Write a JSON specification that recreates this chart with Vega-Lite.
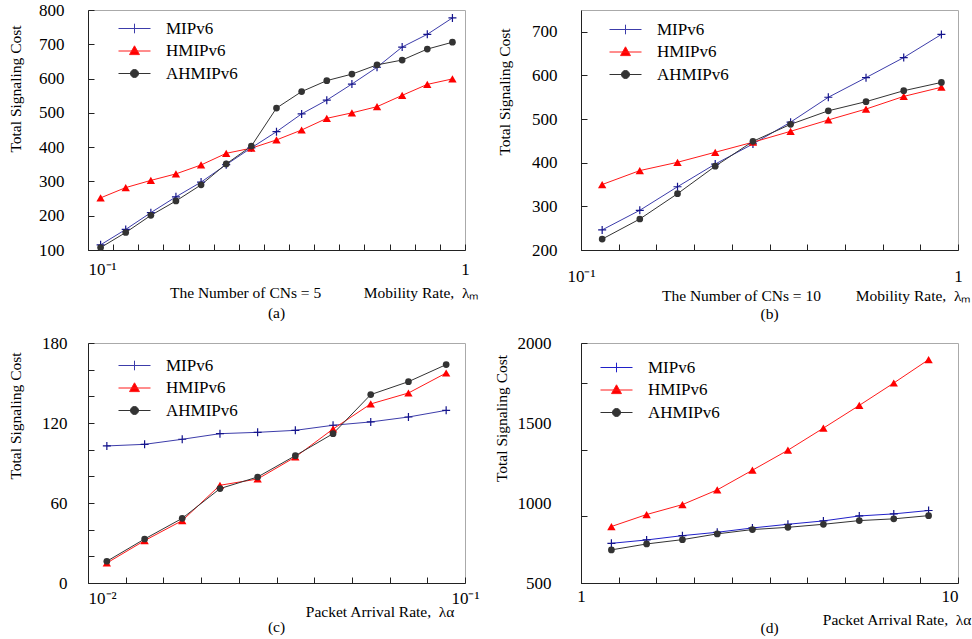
{
  "$schema": "https://vega.github.io/schema/vega-lite/v6.json",
  "padding": {"left": 7, "top": 0, "right": 0, "bottom": 0},
  "background": "white",
  "columns": 2,
  "bounds": "flush",
  "spacing": {"row": 93, "column": 116},
  "resolve": {"scale": {"color": "independent", "x": "independent", "y": "independent"}, "legend": {"color": "independent"}},
  "datasets": {
    "a": [
      {"x": 0.1080, "y": 115, "s": "MIPv6"}, {"x": 0.1259, "y": 160, "s": "MIPv6"}, {"x": 0.1468, "y": 209, "s": "MIPv6"}, {"x": 0.1711, "y": 255, "s": "MIPv6"}, {"x": 0.1995, "y": 298, "s": "MIPv6"}, {"x": 0.2326, "y": 349, "s": "MIPv6"}, {"x": 0.2712, "y": 398, "s": "MIPv6"}, {"x": 0.3162, "y": 445, "s": "MIPv6"}, {"x": 0.3687, "y": 497, "s": "MIPv6"}, {"x": 0.4299, "y": 537, "s": "MIPv6"}, {"x": 0.5012, "y": 584, "s": "MIPv6"}, {"x": 0.5843, "y": 633, "s": "MIPv6"}, {"x": 0.6813, "y": 692, "s": "MIPv6"}, {"x": 0.7943, "y": 729, "s": "MIPv6"}, {"x": 0.9261, "y": 777, "s": "MIPv6"},
      {"x": 0.1080, "y": 252, "s": "HMIPv6"}, {"x": 0.1259, "y": 282, "s": "HMIPv6"}, {"x": 0.1468, "y": 303, "s": "HMIPv6"}, {"x": 0.1711, "y": 322, "s": "HMIPv6"}, {"x": 0.1995, "y": 348, "s": "HMIPv6"}, {"x": 0.2326, "y": 382, "s": "HMIPv6"}, {"x": 0.2712, "y": 397, "s": "HMIPv6"}, {"x": 0.3162, "y": 421, "s": "HMIPv6"}, {"x": 0.3687, "y": 450, "s": "HMIPv6"}, {"x": 0.4299, "y": 484, "s": "HMIPv6"}, {"x": 0.5012, "y": 500, "s": "HMIPv6"}, {"x": 0.5843, "y": 518, "s": "HMIPv6"}, {"x": 0.6813, "y": 551, "s": "HMIPv6"}, {"x": 0.7943, "y": 583, "s": "HMIPv6"}, {"x": 0.9261, "y": 599, "s": "HMIPv6"},
      {"x": 0.1080, "y": 107, "s": "AHMIPv6"}, {"x": 0.1259, "y": 151, "s": "AHMIPv6"}, {"x": 0.1468, "y": 201, "s": "AHMIPv6"}, {"x": 0.1711, "y": 243, "s": "AHMIPv6"}, {"x": 0.1995, "y": 290, "s": "AHMIPv6"}, {"x": 0.2326, "y": 351, "s": "AHMIPv6"}, {"x": 0.2712, "y": 403, "s": "AHMIPv6"}, {"x": 0.3162, "y": 514, "s": "AHMIPv6"}, {"x": 0.3687, "y": 562, "s": "AHMIPv6"}, {"x": 0.4299, "y": 594, "s": "AHMIPv6"}, {"x": 0.5012, "y": 613, "s": "AHMIPv6"}, {"x": 0.5843, "y": 640, "s": "AHMIPv6"}, {"x": 0.6813, "y": 654, "s": "AHMIPv6"}, {"x": 0.7943, "y": 686, "s": "AHMIPv6"}, {"x": 0.9261, "y": 706, "s": "AHMIPv6"}
    ],
    "b": [
      {"x": 0.1138, "y": 246, "s": "MIPv6"}, {"x": 0.1432, "y": 291, "s": "MIPv6"}, {"x": 0.1803, "y": 345, "s": "MIPv6"}, {"x": 0.2270, "y": 397, "s": "MIPv6"}, {"x": 0.2858, "y": 443, "s": "MIPv6"}, {"x": 0.3597, "y": 493, "s": "MIPv6"}, {"x": 0.4529, "y": 550, "s": "MIPv6"}, {"x": 0.5702, "y": 595, "s": "MIPv6"}, {"x": 0.7178, "y": 641, "s": "MIPv6"}, {"x": 0.9036, "y": 694, "s": "MIPv6"},
      {"x": 0.1138, "y": 350, "s": "HMIPv6"}, {"x": 0.1432, "y": 382, "s": "HMIPv6"}, {"x": 0.1803, "y": 401, "s": "HMIPv6"}, {"x": 0.2270, "y": 424, "s": "HMIPv6"}, {"x": 0.2858, "y": 447, "s": "HMIPv6"}, {"x": 0.3597, "y": 472, "s": "HMIPv6"}, {"x": 0.4529, "y": 498, "s": "HMIPv6"}, {"x": 0.5702, "y": 523, "s": "HMIPv6"}, {"x": 0.7178, "y": 552, "s": "HMIPv6"}, {"x": 0.9036, "y": 573, "s": "HMIPv6"},
      {"x": 0.1138, "y": 225, "s": "AHMIPv6"}, {"x": 0.1432, "y": 271, "s": "AHMIPv6"}, {"x": 0.1803, "y": 329, "s": "AHMIPv6"}, {"x": 0.2270, "y": 392, "s": "AHMIPv6"}, {"x": 0.2858, "y": 449, "s": "AHMIPv6"}, {"x": 0.3597, "y": 488, "s": "AHMIPv6"}, {"x": 0.4529, "y": 519, "s": "AHMIPv6"}, {"x": 0.5702, "y": 540, "s": "AHMIPv6"}, {"x": 0.7178, "y": 565, "s": "AHMIPv6"}, {"x": 0.9036, "y": 584, "s": "AHMIPv6"}
    ],
    "c": [
      {"x": 0.01122, "y": 102.8, "s": "MIPv6"}, {"x": 0.01413, "y": 104, "s": "MIPv6"}, {"x": 0.01778, "y": 107.8, "s": "MIPv6"}, {"x": 0.02239, "y": 112, "s": "MIPv6"}, {"x": 0.02818, "y": 113, "s": "MIPv6"}, {"x": 0.03548, "y": 114.5, "s": "MIPv6"}, {"x": 0.04467, "y": 118.3, "s": "MIPv6"}, {"x": 0.05623, "y": 120.8, "s": "MIPv6"}, {"x": 0.07079, "y": 124.5, "s": "MIPv6"}, {"x": 0.08913, "y": 129.5, "s": "MIPv6"},
      {"x": 0.01122, "y": 15, "s": "HMIPv6"}, {"x": 0.01413, "y": 31.8, "s": "HMIPv6"}, {"x": 0.01778, "y": 46.8, "s": "HMIPv6"}, {"x": 0.02239, "y": 73.3, "s": "HMIPv6"}, {"x": 0.02818, "y": 78, "s": "HMIPv6"}, {"x": 0.03548, "y": 94.5, "s": "HMIPv6"}, {"x": 0.04467, "y": 115.5, "s": "HMIPv6"}, {"x": 0.05623, "y": 134.3, "s": "HMIPv6"}, {"x": 0.07079, "y": 142.5, "s": "HMIPv6"}, {"x": 0.08913, "y": 157.5, "s": "HMIPv6"},
      {"x": 0.01122, "y": 16.3, "s": "AHMIPv6"}, {"x": 0.01413, "y": 33, "s": "AHMIPv6"}, {"x": 0.01778, "y": 48.5, "s": "AHMIPv6"}, {"x": 0.02239, "y": 70.8, "s": "AHMIPv6"}, {"x": 0.02818, "y": 79.5, "s": "AHMIPv6"}, {"x": 0.03548, "y": 95.5, "s": "AHMIPv6"}, {"x": 0.04467, "y": 112, "s": "AHMIPv6"}, {"x": 0.05623, "y": 141.3, "s": "AHMIPv6"}, {"x": 0.07079, "y": 151, "s": "AHMIPv6"}, {"x": 0.08913, "y": 163.8, "s": "AHMIPv6"}
    ],
    "d": [
      {"x": 1.204, "y": 748, "s": "MIPv6"}, {"x": 1.493, "y": 769, "s": "MIPv6"}, {"x": 1.858, "y": 796, "s": "MIPv6"}, {"x": 2.298, "y": 817, "s": "MIPv6"}, {"x": 2.849, "y": 844, "s": "MIPv6"}, {"x": 3.539, "y": 867, "s": "MIPv6"}, {"x": 4.395, "y": 888, "s": "MIPv6"}, {"x": 5.472, "y": 919, "s": "MIPv6"}, {"x": 6.755, "y": 932, "s": "MIPv6"}, {"x": 8.356, "y": 953, "s": "MIPv6"},
      {"x": 1.204, "y": 853, "s": "HMIPv6"}, {"x": 1.493, "y": 928, "s": "HMIPv6"}, {"x": 1.858, "y": 990, "s": "HMIPv6"}, {"x": 2.298, "y": 1082, "s": "HMIPv6"}, {"x": 2.849, "y": 1205, "s": "HMIPv6"}, {"x": 3.539, "y": 1330, "s": "HMIPv6"}, {"x": 4.395, "y": 1468, "s": "HMIPv6"}, {"x": 5.472, "y": 1610, "s": "HMIPv6"}, {"x": 6.755, "y": 1750, "s": "HMIPv6"}, {"x": 8.356, "y": 1896, "s": "HMIPv6"},
      {"x": 1.204, "y": 707, "s": "AHMIPv6"}, {"x": 1.493, "y": 744, "s": "AHMIPv6"}, {"x": 1.858, "y": 771, "s": "AHMIPv6"}, {"x": 2.298, "y": 807, "s": "AHMIPv6"}, {"x": 2.849, "y": 834, "s": "AHMIPv6"}, {"x": 3.539, "y": 848, "s": "AHMIPv6"}, {"x": 4.395, "y": 867, "s": "AHMIPv6"}, {"x": 5.472, "y": 890, "s": "AHMIPv6"}, {"x": 6.755, "y": 901, "s": "AHMIPv6"}, {"x": 8.356, "y": 921, "s": "AHMIPv6"}
    ]
  },
  "concat": [
    {
      "width": 377, "height": 240,
      "title": {"text": "(a)", "orient": "bottom", "anchor": "middle", "offset": 5, "baseline": "top"},
      "data": {"name": "a"},
      "encoding": {
        "x": {"field": "x", "type": "quantitative", "scale": {"type": "log", "domain": [0.1, 1], "nice": false},
          "axis": {"values": [0.1, 0.11659, 0.13594, 0.15849, 0.18478, 0.21544, 0.25119, 0.29286, 0.34145, 0.39811, 0.46416, 0.54117, 0.63096, 0.73564, 0.8577, 1],
            "labelExpr": "datum.value < 0.101 ? '10⁻¹' : datum.value > 0.99 ? '1' : ''",
            "labelAlign": {"condition": {"test": "datum.value < 0.101", "value": "left"}, "value": "center"},
            "labelPadding": 17,
            "title": "The Number of CNs = 5\u00a0\u00a0\u00a0\u00a0\u00a0\u00a0\u00a0\u00a0\u00a0\u00a0\u00a0Mobility Rate,\u00a0\u00a0λₘ",
            "titleX": 390, "titleY": 47, "titleAlign": "right", "titleBaseline": "alphabetic"}},
        "y": {"field": "y", "type": "quantitative", "scale": {"domain": [100, 800], "nice": false, "zero": false},
          "axis": {"values": [100, 200, 300, 400, 500, 600, 700, 800], "title": "Total Signaling Cost", "titleX": -73, "titleY": 78.5, "titleBaseline": "middle", "titleAlign": "center", "labelPadding": 30}}
      },
      "layer": [
        {"mark": {"type": "line", "strokeWidth": 1},
          "encoding": {"color": {"field": "s", "type": "nominal", "scale": {"domain": ["MIPv6", "HMIPv6", "AHMIPv6"], "range": ["#3c3caa", "#ff1a1a", "#333333"]},
            "legend": {"title": null, "orient": "none", "legendX": 38, "legendY": 10, "padding": 0, "labelFont": "Liberation Serif", "labelFontSize": 17, "labelColor": "#000", "labelOffset": 23, "symbolSize": 256, "rowPadding": 4.5, "symbolType": "M-2,0H2", "symbolStrokeWidth": 1,
              "encode": {"labels": {"update": {"font": {"value": "Liberation Serif"}}}, "symbols": {"update": {
                "shape": {"signal": "datum.value === 'MIPv6' ? 'M-2,0H2M0,-0.6V0.6' : datum.value === 'HMIPv6' ? 'M-2,0H2M0,-0.65L0.62,0.45L-0.62,0.45Z' : 'M-2,0H2M0.5,0A0.5,0.5,0,1,1,-0.5,0A0.5,0.5,0,1,1,0.5,0Z'"},
                "fill": {"signal": "datum.value === 'MIPv6' ? 'transparent' : datum.value === 'HMIPv6' ? '#ff0000' : '#333333'"},
                "stroke": {"signal": "datum.value === 'MIPv6' ? '#2a2a9a' : datum.value === 'HMIPv6' ? '#ff0000' : '#333333'"},
                "strokeWidth": {"value": 1}, "opacity": {"value": 1}}}}}}}},
        {"transform": [{"filter": "datum.s === 'MIPv6'"}], "mark": {"type": "point", "shape": "M-1,0H1M0,-1V1", "size": 64, "filled": false, "color": "#14148c", "strokeWidth": 1.2, "opacity": 1}},
        {"transform": [{"filter": "datum.s === 'HMIPv6'"}], "mark": {"type": "point", "shape": "triangle-up", "size": 70, "filled": true, "color": "#ff0000", "opacity": 1}},
        {"transform": [{"filter": "datum.s === 'AHMIPv6'"}], "mark": {"type": "point", "shape": "circle", "size": 45, "filled": true, "color": "#333333", "opacity": 1}}
      ]
    },
    {
      "width": 377, "height": 240,
      "title": {"text": "(b)", "orient": "bottom", "anchor": "middle", "offset": 3, "baseline": "top"},
      "data": {"name": "b"},
      "encoding": {
        "x": {"field": "x", "type": "quantitative", "scale": {"type": "log", "domain": [0.1, 1], "nice": false},
          "axis": {"values": [0.1, 0.12589, 0.15849, 0.19953, 0.25119, 0.31623, 0.39811, 0.50119, 0.63096, 0.79433, 1],
            "labelExpr": "datum.value < 0.101 ? '10⁻¹' : datum.value > 0.99 ? '1' : ''",
            "labelAlign": "center",
            "labelPadding": 24,
            "title": "The Number of CNs = 10\u00a0\u00a0\u00a0\u00a0\u00a0\u00a0\u00a0\u00a0\u00a0Mobility Rate,\u00a0\u00a0λₘ",
            "titleX": 389, "titleY": 50, "titleAlign": "right", "titleBaseline": "alphabetic"}},
        "y": {"field": "y", "type": "quantitative", "scale": {"domain": [200, 750], "nice": false, "zero": false},
          "axis": {"values": [200, 300, 400, 500, 600, 700], "title": "Total Signaling Cost", "titleX": -77, "titleY": 81.5, "titleBaseline": "middle", "titleAlign": "center", "labelPadding": 30}}
      },
      "layer": [
        {"mark": {"type": "line", "strokeWidth": 1},
          "encoding": {"color": {"field": "s", "type": "nominal", "scale": {"domain": ["MIPv6", "HMIPv6", "AHMIPv6"], "range": ["#3c3caa", "#ff1a1a", "#333333"]},
            "legend": {"title": null, "orient": "none", "legendX": 36, "legendY": 11, "padding": 0, "labelFont": "Liberation Serif", "labelFontSize": 17, "labelColor": "#000", "labelOffset": 23, "symbolSize": 256, "rowPadding": 4.5, "symbolType": "M-2,0H2", "symbolStrokeWidth": 1,
              "encode": {"labels": {"update": {"font": {"value": "Liberation Serif"}}}, "symbols": {"update": {
                "shape": {"signal": "datum.value === 'MIPv6' ? 'M-2,0H2M0,-0.6V0.6' : datum.value === 'HMIPv6' ? 'M-2,0H2M0,-0.65L0.62,0.45L-0.62,0.45Z' : 'M-2,0H2M0.5,0A0.5,0.5,0,1,1,-0.5,0A0.5,0.5,0,1,1,0.5,0Z'"},
                "fill": {"signal": "datum.value === 'MIPv6' ? 'transparent' : datum.value === 'HMIPv6' ? '#ff0000' : '#333333'"},
                "stroke": {"signal": "datum.value === 'MIPv6' ? '#2a2a9a' : datum.value === 'HMIPv6' ? '#ff0000' : '#333333'"},
                "strokeWidth": {"value": 1}, "opacity": {"value": 1}}}}}}}},
        {"transform": [{"filter": "datum.s === 'MIPv6'"}], "mark": {"type": "point", "shape": "M-1,0H1M0,-1V1", "size": 64, "filled": false, "color": "#14148c", "strokeWidth": 1.2, "opacity": 1}},
        {"transform": [{"filter": "datum.s === 'HMIPv6'"}], "mark": {"type": "point", "shape": "triangle-up", "size": 70, "filled": true, "color": "#ff0000", "opacity": 1}},
        {"transform": [{"filter": "datum.s === 'AHMIPv6'"}], "mark": {"type": "point", "shape": "circle", "size": 45, "filled": true, "color": "#333333", "opacity": 1}}
      ]
    },
    {
      "width": 377, "height": 240,
      "title": {"text": "(c)", "orient": "bottom", "anchor": "middle", "offset": 0, "baseline": "top"},
      "data": {"name": "c"},
      "encoding": {
        "x": {"field": "x", "type": "quantitative", "scale": {"type": "log", "domain": [0.01, 0.1], "nice": false},
          "axis": {"values": [0.01, 0.012589, 0.015849, 0.019953, 0.025119, 0.031623, 0.039811, 0.050119, 0.063096, 0.079433, 0.1],
            "labelExpr": "datum.value < 0.0101 ? '10⁻²' : datum.value > 0.099 ? '10⁻¹' : ''",
            "labelAlign": {"condition": {"test": "datum.value < 0.0101", "value": "left"}, "value": "center"},
            "labelPadding": 13,
            "title": "Packet Arrival Rate,\u00a0\u00a0λα",
            "titleX": 366, "titleY": 33.5, "titleAlign": "right", "titleBaseline": "alphabetic"}},
        "y": {"field": "y", "type": "quantitative", "scale": {"domain": [0, 180], "nice": false, "zero": false},
          "axis": {"values": [0, 20, 40, 60, 80, 100, 120, 140, 160, 180], "labelExpr": "datum.value % 60 === 0 ? datum.label : ''", "title": "Total Signaling Cost", "titleX": -73, "titleY": 72.5, "titleBaseline": "middle", "titleAlign": "center", "labelPadding": 27}}
      },
      "layer": [
        {"mark": {"type": "line", "strokeWidth": 1},
          "encoding": {"color": {"field": "s", "type": "nominal", "scale": {"domain": ["MIPv6", "HMIPv6", "AHMIPv6"], "range": ["#3c3caa", "#ff1a1a", "#333333"]},
            "legend": {"title": null, "orient": "none", "legendX": 38, "legendY": 14, "padding": 0, "labelFont": "Liberation Serif", "labelFontSize": 17, "labelColor": "#000", "labelOffset": 23, "symbolSize": 256, "rowPadding": 4.5, "symbolType": "M-2,0H2", "symbolStrokeWidth": 1,
              "encode": {"labels": {"update": {"font": {"value": "Liberation Serif"}}}, "symbols": {"update": {
                "shape": {"signal": "datum.value === 'MIPv6' ? 'M-2,0H2M0,-0.6V0.6' : datum.value === 'HMIPv6' ? 'M-2,0H2M0,-0.65L0.62,0.45L-0.62,0.45Z' : 'M-2,0H2M0.5,0A0.5,0.5,0,1,1,-0.5,0A0.5,0.5,0,1,1,0.5,0Z'"},
                "fill": {"signal": "datum.value === 'MIPv6' ? 'transparent' : datum.value === 'HMIPv6' ? '#ff0000' : '#333333'"},
                "stroke": {"signal": "datum.value === 'MIPv6' ? '#2a2a9a' : datum.value === 'HMIPv6' ? '#ff0000' : '#333333'"},
                "strokeWidth": {"value": 1}, "opacity": {"value": 1}}}}}}}},
        {"transform": [{"filter": "datum.s === 'MIPv6'"}], "mark": {"type": "point", "shape": "M-1,0H1M0,-1V1", "size": 64, "filled": false, "color": "#14148c", "strokeWidth": 1.2, "opacity": 1}},
        {"transform": [{"filter": "datum.s === 'HMIPv6'"}], "mark": {"type": "point", "shape": "triangle-up", "size": 70, "filled": true, "color": "#ff0000", "opacity": 1}},
        {"transform": [{"filter": "datum.s === 'AHMIPv6'"}], "mark": {"type": "point", "shape": "circle", "size": 45, "filled": true, "color": "#333333", "opacity": 1}},
        {"data": {"values": [{"note": "The Number of CNs = 10"}]},
          "mark": {"type": "text", "align": "right", "baseline": "middle", "font": "Liberation Serif", "fontSize": 15.5, "color": "#000"},
          "encoding": {"x": {"datum": 0.0908, "type": "quantitative"}, "y": {"datum": 23.25, "type": "quantitative"}, "text": {"field": "note", "type": "nominal"}}}
      ]
    },
    {
      "width": 377, "height": 240,
      "title": {"text": "(d)", "orient": "bottom", "anchor": "middle", "offset": -7.5, "baseline": "top"},
      "data": {"name": "d"},
      "encoding": {
        "x": {"field": "x", "type": "quantitative", "scale": {"type": "log", "domain": [1, 10], "nice": false},
          "axis": {"values": [1, 1.2589, 1.5849, 1.9953, 2.5119, 3.1623, 3.9811, 5.0119, 6.3096, 7.9433, 10],
            "labelExpr": "datum.value < 1.01 ? '1' : datum.value > 9.9 ? '10' : ''",
            "labelAlign": {"condition": {"test": "datum.value > 9.9", "value": "right"}, "value": "center"},
            "labelPadding": 11,
            "title": "Packet Arrival Rate,\u00a0\u00a0λα",
            "titleX": 390, "titleY": 41.5, "titleAlign": "right", "titleBaseline": "alphabetic"}},
        "y": {"field": "y", "type": "quantitative", "scale": {"domain": [500, 2000], "nice": false, "zero": false},
          "axis": {"values": [500, 917, 1000, 1333, 1500, 1750, 2000], "format": "d",
            "labelExpr": "datum.value === 500 || datum.value === 1000 || datum.value === 1500 || datum.value === 2000 ? datum.label : ''",
            "tickOpacity": {"condition": {"test": "datum.value === 1000 || datum.value === 1500", "value": 0}, "value": 1},
            "title": "Total Signaling Cost", "titleX": -80, "titleY": 75, "titleBaseline": "middle", "titleAlign": "center", "labelPadding": 36}}
      },
      "layer": [
        {"mark": {"type": "line", "strokeWidth": 1},
          "encoding": {"color": {"field": "s", "type": "nominal", "scale": {"domain": ["MIPv6", "HMIPv6", "AHMIPv6"], "range": ["#2020c8", "#ff1a1a", "#333333"]},
            "legend": {"title": null, "orient": "none", "legendX": 27, "legendY": 16, "padding": 0, "labelFont": "Liberation Serif", "labelFontSize": 17, "labelColor": "#000", "labelOffset": 23, "symbolSize": 256, "rowPadding": 4.5, "symbolType": "M-2,0H2", "symbolStrokeWidth": 1,
              "encode": {"labels": {"update": {"font": {"value": "Liberation Serif"}}}, "symbols": {"update": {
                "shape": {"signal": "datum.value === 'MIPv6' ? 'M-2,0H2M0,-0.6V0.6' : datum.value === 'HMIPv6' ? 'M-2,0H2M0,-0.65L0.62,0.45L-0.62,0.45Z' : 'M-2,0H2M0.5,0A0.5,0.5,0,1,1,-0.5,0A0.5,0.5,0,1,1,0.5,0Z'"},
                "fill": {"signal": "datum.value === 'MIPv6' ? 'transparent' : datum.value === 'HMIPv6' ? '#ff0000' : '#333333'"},
                "stroke": {"signal": "datum.value === 'MIPv6' ? '#1a1ab4' : datum.value === 'HMIPv6' ? '#ff0000' : '#333333'"},
                "strokeWidth": {"value": 1}, "opacity": {"value": 1}}}}}}}},
        {"transform": [{"filter": "datum.s === 'MIPv6'"}], "mark": {"type": "point", "shape": "M-1,0H1M0,-1V1", "size": 64, "filled": false, "color": "#14148c", "strokeWidth": 1.2, "opacity": 1}},
        {"transform": [{"filter": "datum.s === 'HMIPv6'"}], "mark": {"type": "point", "shape": "triangle-up", "size": 70, "filled": true, "color": "#ff0000", "opacity": 1}},
        {"transform": [{"filter": "datum.s === 'AHMIPv6'"}], "mark": {"type": "point", "shape": "circle", "size": 45, "filled": true, "color": "#333333", "opacity": 1}},
        {"data": {"values": [{"note": "The Number of CNs = 10"}]},
          "mark": {"type": "text", "align": "right", "baseline": "middle", "font": "Liberation Serif", "fontSize": 15.5, "color": "#000"},
          "encoding": {"x": {"datum": 9.12, "type": "quantitative"}, "y": {"datum": 665, "type": "quantitative"}, "text": {"field": "note", "type": "nominal"}}}
      ]
    }
  ],
  "config": {
    "font": "Liberation Serif",
    "view": {"stroke": "#aaaaaa", "strokeWidth": 1},
    "axis": {"grid": false, "tickSize": -6, "tickColor": "#222222", "domainColor": "#222222", "labelOverlap": false, "labelFlush": false, "labelBound": false,
      "labelFont": "Liberation Serif", "labelFontSize": 17, "labelColor": "#000000", "titleFont": "Liberation Serif", "titleFontSize": 15.5, "titleFontWeight": "normal", "titleColor": "#000000", "format": "d"},
    "axisX": {"labelBaseline": "top"},
    "title": {"font": "Liberation Serif", "fontSize": 15.5, "fontWeight": "normal", "color": "#000000"},
    "legend": {"labelFont": "Liberation Serif"}
  }
}
